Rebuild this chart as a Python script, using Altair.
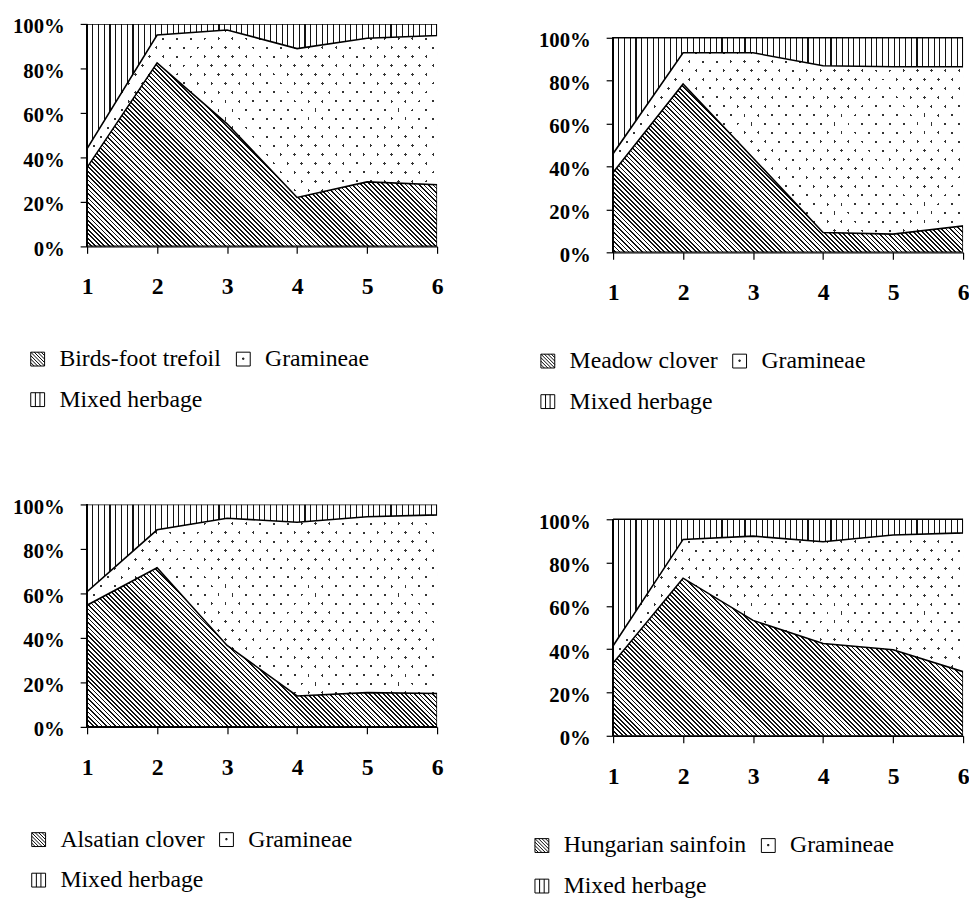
import math
import altair as alt
import numpy as np
import pandas as pd

# ---------------- data ----------------
x_vals = [1, 2, 3, 4, 5, 6]
legume_names = ["Birds-foot trefoil", "Meadow clover", "Alsatian clover", "Hungarian sainfoin"]
legume_pct = [
    [35.5, 82.5, 55.1, 22.0, 29.0, 27.7],
    [37.2, 78.5, 44.0, 9.2, 8.5, 12.3],
    [54.7, 71.5, 36.6, 13.9, 15.4, 15.0],
    [33.6, 72.8, 53.3, 42.6, 39.7, 29.6],
]
gramineae_pct = [
    [8.5, 12.5, 42.2, 66.9, 64.6, 67.1],
    [8.8, 14.5, 49.0, 77.8, 78.0, 74.2],
    [6.1, 17.1, 57.2, 78.1, 79.1, 80.3],
    [7.9, 17.9, 38.9, 47.0, 53.0, 64.1],
]
mixed_pct = [
    [56.0, 5.0, 2.7, 11.1, 6.4, 5.2],
    [54.0, 7.0, 7.0, 13.0, 13.5, 13.5],
    [39.2, 11.4, 6.2, 8.0, 5.5, 4.7],
    [58.5, 9.3, 7.8, 10.4, 7.3, 6.3],
]
y_ticks = [0, 20, 40, 60, 80, 100]

# ---------------- layout / style ----------------
PLOT_W = 354
PLOT_H = [225, 217, 225, 219]      # height of the 0..100 % span
TOP_PAD = [0, 14, 0, 13]           # empty room above 100 % (panel offset)
LEG_X = [-62, -78, -61, -84]
LEG_GAP = [102, 98, 102, 99]
FONT = "Liberation Serif"

SHAPE_HATCH = ("M-1,-1H1V1H-1Z M-1,-1L1,1 M-0.5,-1L1,0.5 M0,-1L1,0 M0.5,-1L1,-0.5 "
               "M-1,-0.5L0.5,1 M-1,0L0,1 M-1,0.5L-0.5,1")
SHAPE_DOT = "M-1,-1H1V1H-1Z M-0.1,-0.15H0.08V0.03H-0.1Z"
SHAPE_VLINES = "M-1,-1H1V1H-1Z M-0.33,-1V1 M0.33,-1V1"


def stripes(w, h, normal, spacing, width, ink, paper):
    """Linear gradient (objectBoundingBox units) giving parallel bands in screen space."""
    nx, ny = normal
    n = math.hypot(nx, ny)
    nx, ny = nx / n, ny / n
    corners = [0.0, nx * w, ny * h, nx * w + ny * h]
    smin, smax = min(corners), max(corners)
    span = smax - smin
    a, b, c0 = nx / span, ny / span, -smin / span
    gx, gy = a * w, b * h
    G = gx * gx + gy * gy
    x1, y1 = -c0 * gx / G, -c0 * gy / G
    x2, y2 = x1 + gx / G, y1 + gy / G
    stops = [{"offset": 0.0, "color": paper}]
    k0 = math.floor((smin - width) / spacing)
    k1 = math.ceil((smax + width) / spacing)
    for k in range(k0, k1 + 1):
        sc = k * spacing
        t0 = (sc - width / 2 - smin) / span
        t1 = (sc + width / 2 - smin) / span
        if t1 <= 0 or t0 >= 1:
            continue
        t0 = round(max(t0, 0.0), 5)
        t1 = round(min(t1, 1.0), 5)
        stops += [
            {"offset": t0, "color": paper},
            {"offset": t0, "color": ink},
            {"offset": t1, "color": ink},
            {"offset": t1, "color": paper},
        ]
    stops.append({"offset": 1.0, "color": paper})
    return {"gradient": "linear", "x1": round(x1, 6), "y1": round(y1, 6),
            "x2": round(x2, 6), "y2": round(y2, 6), "stops": stops}


def panel(i):
    names = [legume_names[i], "Gramineae", "Mixed herbage"]
    series = [legume_pct[i], gramineae_pct[i], mixed_pct[i]]
    rows = []
    for k, (name, vals) in enumerate(zip(names, series)):
        for x, v in zip(x_vals, vals):
            rows.append({"x": x, "series": name, "order": k, "value": v})
    df = pd.DataFrame(rows)

    H = PLOT_H[i]
    H_total = H + TOP_PAD[i]
    y_max = 100.0 * H_total / H
    leg = np.array(legume_pct[i])
    top = leg + np.array(gramineae_pct[i])
    h_leg = leg.max() / 100 * H
    h_gram = (top.max() - leg.min()) / 100 * H
    h_mix = (100 - top.min()) / 100 * H

    hatch = stripes(PLOT_W, h_leg, (1, -1), 3.2, 1.25, "#111111", "#ffffff")
    vlines = stripes(PLOT_W, h_mix, (1, 0), 5.8, 1.1, "#111111", "#ffffff")
    lat_n = math.hypot(9, 7)
    lat_sp = 126 / lat_n
    dotsA = stripes(PLOT_W, h_gram, (9, -7), lat_sp, 2.0, "#333333", "#ffffff")
    dotsB = stripes(PLOT_W, h_gram, (9, 7), lat_sp, 2.0, "rgba(255,255,255,0)", "#ffffff")

    xscale = alt.Scale(domain=[1, 6], nice=False, zero=False)
    yscale = alt.Scale(domain=[0, y_max], nice=False)
    xenc = alt.X("x:Q", scale=xscale,
                 axis=alt.Axis(values=x_vals, format="d", title=None, labelFontSize=24,
                               labelPadding=22, labelFlush=False, labelOverlap=False))
    yenc = alt.Y("v1:Q", scale=yscale,
                 axis=alt.Axis(values=y_ticks, labelExpr="datum.value + '%'", title=None,
                               labelFontSize=21, labelPadding=16, labelFlush=False,
                               labelOverlap=False, labelOffset=3, domain=False))

    def area(order, fill, stroke):
        kw = dict(fill=fill, clip=True)
        if stroke:
            kw.update(stroke="black", strokeWidth=1.6, strokeJoin="miter")
        else:
            kw.update(strokeWidth=0)
        return (alt.Chart().transform_filter(alt.datum.order == order)
                .mark_area(**kw).encode(x=xenc, y=yenc, y2="v0:Q"))

    # y-axis line from 0 % to 100 % only
    axis_line = alt.Chart().mark_rule(color="black", strokeWidth=1.2).encode(
        x=alt.X(datum=x_vals[0], scale=xscale),
        y=alt.Y(datum=y_ticks[0], scale=yscale),
        y2=alt.Y2(datum=y_ticks[-1]),
    )

    # legend entries are laid out column-first: legume, Mixed herbage | Gramineae
    leg_domain = [names[0], names[2], names[1]]
    leg_shapes = [SHAPE_HATCH, SHAPE_VLINES, SHAPE_DOT]
    legend_layer = alt.Chart().mark_point(
        opacity=0, filled=False, color="black", strokeWidth=1
    ).encode(
        x=xenc, y=yenc,
        shape=alt.Shape("series:N",
                        scale=alt.Scale(domain=leg_domain, range=leg_shapes),
                        legend=alt.Legend(title=None, orient="none", legendX=LEG_X[i],
                                          legendY=H_total + LEG_GAP[i], columns=2,
                                          columnPadding=10, rowPadding=17, labelOffset=10,
                                          symbolSize=196, symbolStrokeWidth=1,
                                          symbolStrokeColor="black", labelFont=FONT,
                                          labelFontSize=24, labelColor="black",
                                          labelLimit=600, padding=0)),
    )

    ch = alt.layer(
        area(1, dotsA, False),
        area(1, dotsB, False),
        area(0, hatch, True),
        area(2, vlines, True),
        legend_layer,
        axis_line,
        data=df,
    ).transform_stack(
        stack="value", groupby=["x"], as_=["v0", "v1"],
        sort=[alt.SortField(field="order", order="ascending")],
    ).properties(width=PLOT_W, height=H_total)
    return ch


p1, p2, p3, p4 = [panel(i) for i in range(4)]

res = dict(x="independent", y="independent", shape="independent")
col1 = alt.vconcat(p1, p3, spacing=86).resolve_scale(**res).resolve_legend(shape="independent")
col2 = alt.vconcat(p2, p4, spacing=94).resolve_scale(**res).resolve_legend(shape="independent")
chart = alt.hconcat(col1, col2, spacing=88).resolve_scale(**res).resolve_legend(shape="independent")

chart = chart.properties(
    padding={"left": 4, "top": 3, "right": 0, "bottom": 0},
    background="white",
).configure(font=FONT).configure_view(strokeWidth=0).configure_axis(
    domainColor="black", tickColor="black", labelColor="black", labelFont=FONT,
    labelFontWeight="bold", grid=False, tickSize=7, domainWidth=1.2, tickWidth=1.2,
)

chart.save("out.html", embed_options={"renderer": "svg", "actions": False})
